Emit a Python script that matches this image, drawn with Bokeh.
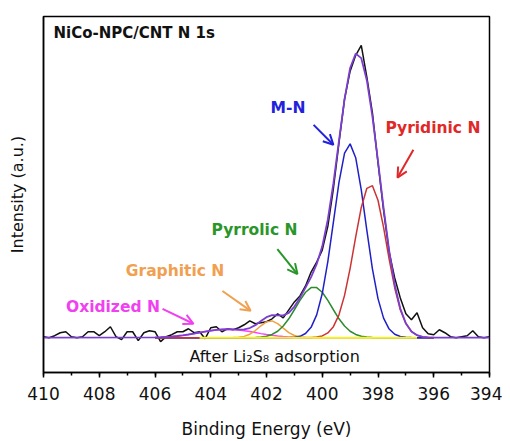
from bokeh.plotting import figure
from bokeh.models import Range1d, SingleIntervalTicker, FixedTicker, Label, Arrow, OpenHead
from bokeh.embed import file_html
from bokeh.resources import INLINE

# ---------------- data ----------------
# raw spectrum: binding energy (eV) and intensity (a.u.)
E_RAW = [410.0, 409.8, 409.6, 409.4, 409.2, 409.0, 408.8, 408.6, 408.4, 408.2,
         408.0, 407.8, 407.6, 407.4, 407.2, 407.0, 406.8, 406.6, 406.4, 406.2,
         406.0, 405.8, 405.6, 405.4, 405.2, 405.0, 404.8, 404.6, 404.4, 404.2,
         404.0, 403.8, 403.6, 403.4, 403.2, 403.0, 402.8, 402.6, 402.4, 402.2,
         402.0, 401.8, 401.6, 401.4, 401.2, 401.0, 400.8, 400.6, 400.4, 400.2,
         400.0, 399.8, 399.6, 399.4, 399.2, 399.0, 398.8, 398.6, 398.4, 398.2,
         398.0, 397.8, 397.6, 397.4, 397.2, 397.0, 396.8, 396.6, 396.4, 396.2,
         396.0, 395.8, 395.6, 395.4, 395.2, 395.0, 394.8, 394.6, 394.4, 394.2,
         394.0]
I_RAW = [1, 0, 2, 5, 6, 1, 0, 1, 6, 6,
         2, 6, 11, 1, -2, 6, 6, -3, 5, 7,
         6, -4, 1, 3, 6, 6, 9, 5, 6, -1,
         10, 11, 6, 9, 8, 10, 13, 17, 14, 15,
         16, 19, 24, 20, 28, 36, 42, 52, 66, 76,
         88, 112, 150, 196, 240, 268, 284, 294, 262, 226,
         176, 128, 86, 60, 40, 24, 18, 25, 10, 4,
         3, 8, 5, 1, 0, 1, 2, 7, 1, 0,
         1]

# fitted components on a common energy grid
E_FIT = [406.0, 405.8, 405.6, 405.4, 405.2, 405.0, 404.8, 404.6, 404.4, 404.2,
         404.0, 403.8, 403.6, 403.4, 403.2, 403.0, 402.8, 402.6, 402.4, 402.2,
         402.0, 401.8, 401.6, 401.4, 401.2, 401.0, 400.8, 400.6, 400.4, 400.2,
         400.0, 399.8, 399.6, 399.4, 399.2, 399.0, 398.8, 398.6, 398.4, 398.2,
         398.0, 397.8, 397.6, 397.4, 397.2, 397.0, 396.8, 396.6, 396.4, 396.2,
         396.0]
OXIDIZED = [0.3, 0.5, 0.8, 1.1, 1.7, 2.4, 3.2, 4.1, 5.2, 6.2,
            7.1, 7.8, 8.3, 8.5, 8.3, 7.8, 7.1, 6.2, 5.2, 4.1,
            3.2, 2.4, 1.7, 1.1, 0.8, 0.5, 0.3, 0.2, 0.1, 0,
            0, 0, 0, 0, 0, 0, 0, 0, 0, 0,
            0, 0, 0, 0, 0, 0, 0, 0, 0, 0,
            0]
GRAPHITIC = [0, 0, 0, 0, 0, 0, 0, 0, 0, 0,
             0, 0, 0, 0, 0.1, 0.4, 1.3, 3.5, 7.2, 12.0,
             15.9, 16.9, 14.2, 9.6, 5.1, 2.2, 0.7, 0.2, 0, 0,
             0, 0, 0, 0, 0, 0, 0, 0, 0, 0,
             0, 0, 0, 0, 0, 0, 0, 0, 0, 0,
             0]
PYRROLIC = [0, 0, 0, 0, 0, 0, 0, 0, 0, 0,
            0, 0, 0, 0, 0, 0, 0, 0, 0.2, 0.6,
            1.5, 3.3, 6.5, 11.7, 19.0, 28.1, 37.6, 45.7, 50.4, 50.4,
            45.7, 37.6, 28.1, 19.0, 11.7, 6.5, 3.3, 1.5, 0.6, 0.2,
            0, 0, 0, 0, 0, 0, 0, 0, 0, 0,
            0]
M_N = [0, 0, 0, 0, 0, 0, 0, 0, 0, 0,
       0, 0, 0, 0, 0, 0, 0, 0, 0, 0,
       0, 0, 0, 0, 0, 0.5, 1.4, 4.2, 10.4, 22.9,
       44.4, 76.5, 116.2, 156.1, 185.6, 194.9, 181.0, 148.6, 107.9, 69.3,
       39.3, 19.7, 8.7, 3.4, 1.2, 0.4, 0.1, 0, 0, 0,
       0]
PYRIDINIC = [0, 0, 0, 0, 0, 0, 0, 0, 0, 0,
             0, 0, 0, 0, 0, 0, 0, 0, 0, 0,
             0, 0, 0, 0, 0, 0, 0, 0, 0, 0.6,
             1.8, 4.8, 11.1, 23.0, 42.6, 69.8, 101.4, 131.0, 150.2, 152.9,
             138.2, 110.9, 79.1, 50.0, 28.1, 14.1, 6.2, 2.5, 0.8, 0.3,
             0.1]
BASELINE_E = [404.4, 396.6]
BASELINE_I = [0, 0]

X_START, X_END = 410, 394
Y_START, Y_END = -35, 323

# envelope = sum of the fitted components (flat outside the fit window)
ENVELOPE = [a + b + c + d + e for a, b, c, d, e in zip(OXIDIZED, GRAPHITIC, PYRROLIC, M_N, PYRIDINIC)]
ENV_E = [X_START] + E_FIT + [X_END]
ENV_I = [0] + ENVELOPE + [0]

FONT = "DejaVu Sans"

p = figure(width=502, height=441,
           x_range=Range1d(X_START, X_END), y_range=Range1d(Y_START, Y_END),
           output_backend="svg", toolbar_location=None,
           min_border_left=43, min_border_right=13, min_border_top=16, min_border_bottom=67)
p.background_fill_color = "white"
p.border_fill_color = "white"
p.xgrid.visible = False
p.ygrid.visible = False
p.outline_line_color = "black"
p.outline_line_width = 1.5
p.outline_line_alpha = 1.0

# x axis
xa = p.xaxis[0]
xa.ticker = SingleIntervalTicker(interval=2, num_minor_ticks=2)
xa.major_tick_in = 0
xa.major_tick_out = 5
xa.minor_tick_in = 0
xa.minor_tick_out = 3
xa.major_tick_line_width = 1.5
xa.minor_tick_line_width = 1.5
xa.axis_line_width = 1.5
xa.major_label_text_font = FONT
xa.major_label_text_font_size = "17px"
xa.major_label_text_color = "#111111"
xa.major_label_standoff = 9
xa.axis_label = "Binding Energy (eV)"
xa.axis_label_text_font = FONT
xa.axis_label_text_font_size = "17px"
xa.axis_label_text_font_style = "normal"
xa.axis_label_text_color = "#111111"
xa.axis_label_standoff = 16

# y axis (no ticks)
ya = p.yaxis[0]
ya.ticker = FixedTicker(ticks=[])
ya.major_tick_in = 0
ya.major_tick_out = 0
ya.minor_tick_line_color = None
ya.axis_line_width = 1.5
ya.axis_label = "Intensity (a.u.)"
ya.axis_label_text_font = FONT
ya.axis_label_text_font_size = "16px"
ya.axis_label_text_font_style = "normal"
ya.axis_label_text_color = "#111111"
ya.axis_label_standoff = 17

# curves
p.line(E_RAW, I_RAW, line_color="#111111", line_width=1.5)
p.line(E_FIT, OXIDIZED, line_color="#ff40ff", line_width=1.5)
p.line(E_FIT, GRAPHITIC, line_color="#f0a040", line_width=1.5)
p.line(E_FIT, PYRROLIC, line_color="#2e8b2e", line_width=1.5)
p.line(E_FIT, M_N, line_color="#2020c8", line_width=1.5)
p.line(E_FIT, PYRIDINIC, line_color="#cc3333", line_width=1.5)
p.line(BASELINE_E, BASELINE_I, line_color="#f2f230", line_width=2)
p.line(ENV_E, ENV_I, line_color="#7a3fd0", line_width=1.8)

# annotations
def lab(x, y, text, color, size="15.5px", bold=True, align="center"):
    p.add_layout(Label(x=x, y=y, text=text, text_align=align, text_baseline="middle",
                       text_font=FONT, text_font_size=size,
                       text_font_style="bold" if bold else "normal", text_color=color))

def arrow(x0, y0, x1, y1, color):
    p.add_layout(Arrow(end=OpenHead(size=10, line_color=color, line_width=2),
                       x_start=x0, y_start=y0, x_end=x1, y_end=y1,
                       line_color=color, line_width=2))

lab(409.64, 306, "NiCo-NPC/CNT N 1s", "#111111", size="15px", align="left")
lab(401.23, 231, "M-N", "#2222dd")
arrow(400.31, 214, 399.60, 194, "#2222dd")
lab(396.03, 211, "Pyridinic N", "#e02828")
arrow(396.73, 189, 397.30, 161, "#e02828")
lab(402.43, 108, "Pyrrolic N", "#2a962a")
arrow(401.61, 89, 400.89, 64, "#2a962a")
lab(405.28, 67, "Graphitic N", "#f0a050")
arrow(403.58, 47, 402.57, 27, "#f0a050")
lab(407.51, 31, "Oxidized N", "#f040f0")
arrow(405.73, 29, 404.62, 14, "#f040f0")
lab(401.71, -19, "After Li\u2082S\u2088 adsorption", "#111111", size="16px", bold=False)

open("out.html", "w").write(file_html(p, INLINE))
